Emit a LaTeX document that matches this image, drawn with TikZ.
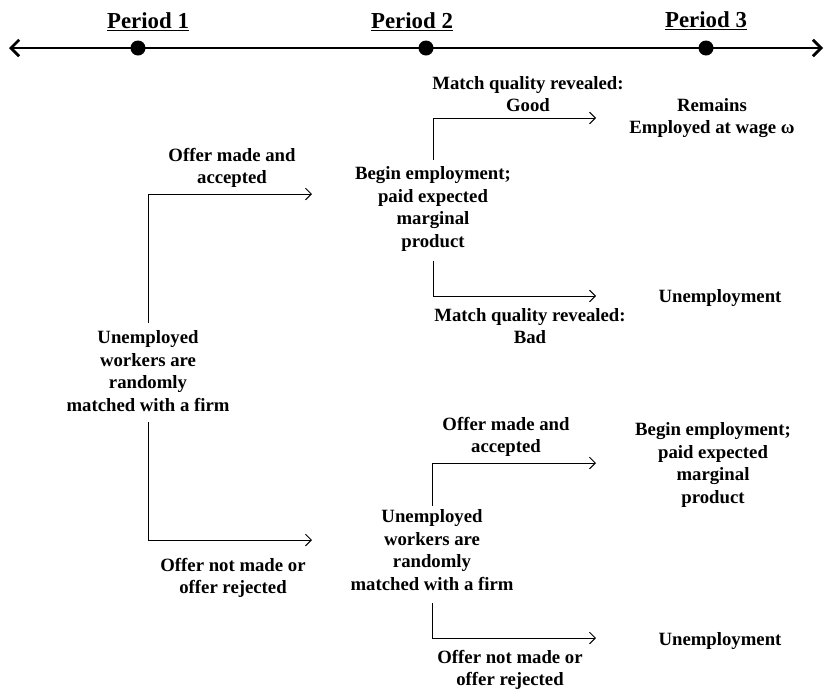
\documentclass[tikz,border=0pt]{standalone}
\usepackage{fontspec}
\setmainfont{Liberation Serif}
\usetikzlibrary{arrows.meta}
\begin{document}
\begin{tikzpicture}[x=0.03cm,y=-0.03cm,
  lbl/.style={font=\bfseries\fontsize{16}{19.2}\selectfont, align=center, inner sep=0pt, yshift=-0.06cm},
  per/.style={font=\bfseries\fontsize{19.5}{22}\selectfont, inner sep=0pt, yshift=-0.05cm},
  dot/.style={circle, fill=black, inner sep=0pt, minimum size=0.45cm},
  conn/.style={line width=0.8pt, -{Straight Barb[length=5pt,width=10pt]}},
  tline/.style={line width=2.4pt, {Straight Barb[length=7pt,width=14pt]}-{Straight Barb[length=7pt,width=14pt]}}]
\useasboundingbox (0,0) rectangle (825,692);

% timeline
\coordinate (tl) at (9,48);
\coordinate (tr) at (823,48);
\draw[tline] (tl) -- (tr);
\node[dot] (d1) at (138,48) {};
\node[dot] (d2) at (426,48) {};
\node[dot] (d3) at (706,48) {};
\node[per] (p1) at (148,20) {\underline{Period 1}};
\node[per] (p2) at (412,20) {\underline{Period 2}};
\node[per] (p3) at (706,19) {\underline{Period 3}};

% period 1
\node[lbl] (u1) at (148,369) {Unemployed\\workers are\\randomly\\matched with a firm};
\node[lbl] (oa1) at (232,166) {Offer made and\\accepted};
\node[lbl] (or1) at (233,576) {Offer not made or\\offer rejected};

% period 2 upper
\node[lbl] (b1) at (433,207) {Begin employment;\\paid expected\\marginal\\product};
\node[lbl] (mg) at (528,92) {Match quality revealed:\\Good};
\node[lbl] (mb) at (530,324) {Match quality revealed:\\Bad};
\node[lbl] (rem) at (712,116) {Remains\\Employed at wage ω};
\node[lbl] (un1) at (720,296) {Unemployment};

% period 2 lower
\node[lbl] (u2) at (432,548) {Unemployed\\workers are\\randomly\\matched with a firm};
\node[lbl] (oa2) at (506,435) {Offer made and\\accepted};
\node[lbl] (or2) at (510,668) {Offer not made or\\offer rejected};
\node[lbl] (b2) at (713,463) {Begin employment;\\paid expected\\marginal\\product};
\node[lbl] (un2) at (720,639) {Unemployment};

% arrow end points
\coordinate (e1) at (312,194);
\coordinate (e2) at (312,540);
\coordinate (e3) at (596,118);
\coordinate (e4) at (596,296);
\coordinate (e5) at (596,463);
\coordinate (e6) at (596,638);

\draw[conn, shorten <=6pt] (u1.north) |- (e1);
\draw[conn, shorten <=9pt] (u1.south) |- (e2);
\draw[conn, shorten <=6pt] (b1.north) |- (e3);
\draw[conn, shorten <=8pt] (b1.south) |- (e4);
\draw[conn, shorten <=3pt] (u2.north) |- (e5);
\draw[conn, shorten <=11pt] (u2.south) |- (e6);
\end{tikzpicture}
\end{document}
